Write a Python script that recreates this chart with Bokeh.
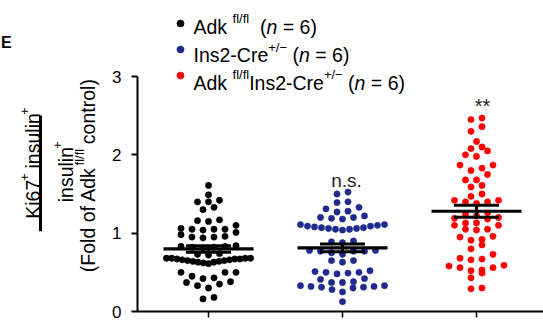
import math
import numpy as np
from bokeh.plotting import figure
from bokeh.layouts import row
from bokeh.models import (Range1d, FixedTicker, Label, Legend, LegendItem,
                          ColumnDataSource)
from bokeh.embed import file_html
from bokeh.resources import INLINE

# ---------------- data ----------------
group_pos = [1, 2, 3]
colors = ["#000000", "#1f2a8c", "#ff0000"]

ctrl = [1.61, 1.49, 1.42, 1.40, 1.40, 1.33, 1.30, 1.17, 1.16, 1.15, 1.10,
        1.05, 1.05, 1.05, 1.06, 1.04, 1.01, 0.98, 0.95, 0.95, 0.94, 0.96,
        0.84, 0.83, 0.82, 0.82, 0.81, 0.83, 0.74, 0.73, 0.72,
        0.68, 0.68, 0.67, 0.67, 0.66, 0.65, 0.64, 0.63, 0.61, 0.62, 0.63,
        0.64, 0.65, 0.66, 0.67, 0.68, 0.68,
        0.50, 0.45, 0.42, 0.43, 0.50, 0.50, 0.37, 0.33, 0.30, 0.35, 0.38,
        0.16, 0.18]

cre = [1.525, 1.50, 1.39, 1.40, 1.33, 1.28, 1.31, 1.27, 1.22, 1.20, 1.18,
       1.19, 1.20,
       1.11, 1.10, 1.09, 1.07, 1.06, 1.05, 1.04, 1.05, 1.06, 1.07, 1.08,
       1.09, 1.11,
       0.90, 0.89, 0.88, 0.78, 0.77, 0.75, 0.77, 0.73, 0.77, 0.78,
       0.65, 0.63, 0.65,
       0.52, 0.50, 0.49, 0.48, 0.50, 0.51, 0.42, 0.38, 0.37, 0.37, 0.41,
       0.33, 0.32, 0.31, 0.28, 0.25, 0.30, 0.31, 0.32, 0.33, 0.125]

ko = [2.47, 2.45, 2.36, 2.30, 2.17, 2.10, 2.08, 2.05, 2.00, 1.98, 1.87,
      1.87, 1.83, 1.80, 1.75, 1.68, 1.68, 1.61, 1.59, 1.50, 1.47, 1.42,
      1.40, 1.38, 1.40, 1.42, 1.26, 1.24, 1.22, 1.20, 1.19, 1.18, 1.13,
      1.10, 1.10, 1.13, 1.05, 1.04, 1.05, 0.96, 0.95, 0.92, 0.91, 0.85,
      0.80, 0.73, 0.68, 0.67, 0.66, 0.59, 0.58, 0.56, 0.56, 0.53, 0.52,
      0.49, 0.43, 0.30, 0.29]

series = [ctrl, cre, ko]
sig_labels = ["", "n.s.", "**"]
y_ticks = [0, 1, 2, 3]

# ---------------- layout constants ----------------
FONT = "Liberation Sans"
TOTAL_W, H = 543, 322
TW = 100                      # width of left title panel
MW = TOTAL_W - TW             # width of main figure
AX_X = 137                    # page x of the y axis (frame left)
Y0_PAGE = 311                 # page y of value 0
PXY = (Y0_PAGE - 76) / 3.0    # px per y unit (value 3 at page y 76)
PXU = 134.0                   # px per x unit
X0 = 1 - (208 - AX_X) / PXU
X1 = X0 + (TOTAL_W - AX_X) / PXU
YTOP = Y0_PAGE / PXY          # value at page y = 0

p = figure(width=MW, height=H, x_range=Range1d(X0, X1), y_range=Range1d(0, YTOP),
           output_backend="svg", toolbar_location=None,
           min_border_left=AX_X - TW, min_border_right=0, min_border_top=0,
           min_border_bottom=H - Y0_PAGE)
p.outline_line_color = None
p.grid.visible = False

# axes
p.yaxis.ticker = FixedTicker(ticks=y_ticks)
p.yaxis.bounds = (0, 3)
p.yaxis.minor_tick_line_color = None
p.yaxis.major_tick_out = 6
p.yaxis.major_tick_in = 0
p.yaxis.axis_line_width = 2
p.yaxis.major_tick_line_width = 2
p.yaxis.major_label_text_font = FONT
p.yaxis.major_label_text_font_size = "17px"
p.yaxis.major_label_text_color = "black"
p.yaxis.major_label_standoff = 10

p.xaxis.ticker = FixedTicker(ticks=group_pos)
p.xaxis.major_label_overrides = {g: "" for g in group_pos}
p.xaxis.major_label_text_font_size = "0px"
p.xaxis.major_label_standoff = 0
p.xaxis.minor_tick_line_color = None
p.xaxis.major_tick_out = 6
p.xaxis.major_tick_in = 0
p.xaxis.axis_line_width = 2
p.xaxis.major_tick_line_width = 1.5


# ---------------- column scatter layout (rows of similar values) ----------------
def swarm_offsets(vals, h=0.085, step_px=11.0, max_px=84.0):
    order = sorted(range(len(vals)), key=lambda i: vals[i])
    offs = [0.0] * len(vals)
    i = 0
    while i < len(order):
        start = vals[order[i]]
        members = []
        while i < len(order) and vals[order[i]] < start + h:
            members.append(order[i])
            i += 1
        n = len(members)
        s = step_px if n <= 1 else min(step_px, max_px / (n - 1))
        slots = [(k - (n - 1) / 2.0) * s for k in range(n)]
        slots.sort(key=lambda v: (abs(v), v))
        for idx, sl in zip(members, slots):
            offs[idx] = sl / PXU
    return offs


renderers = []
for pos, vals, col in zip(group_pos, series, colors):
    offs = swarm_offsets(vals)
    src = ColumnDataSource(dict(x=[pos + o for o in offs], y=vals))
    r = p.scatter("x", "y", source=src, size=6.3, fill_color=col, line_color=col,
                  line_width=0.5)
    renderers.append(r)

# mean +/- SEM
for pos, vals in zip(group_pos, series):
    a = np.array(vals)
    m = a.mean()
    sem = a.std(ddof=1) / math.sqrt(len(a))
    hw_m, hw_s = 45 / PXU, 22.5 / PXU
    p.segment(x0=[pos - hw_m], x1=[pos + hw_m], y0=[m], y1=[m],
              line_color="black", line_width=3.2)
    p.segment(x0=[pos - hw_s, pos - hw_s], x1=[pos + hw_s, pos + hw_s],
              y0=[m - sem, m + sem], y1=[m - sem, m + sem],
              line_color="black", line_width=3)
    p.segment(x0=[pos], x1=[pos], y0=[m - sem], y1=[m + sem],
              line_color="black", line_width=3)

# significance marks
p.add_layout(Label(x=group_pos[1] + 0.03, y=1.675, text=sig_labels[1],
                   text_font=FONT, text_font_size="19px", text_align="center",
                   text_baseline="alphabetic", text_color="#222222"))
p.add_layout(Label(x=group_pos[2] + 0.045, y=2.62, text=sig_labels[2],
                   text_font=FONT, text_font_size="20px", text_align="center",
                   text_baseline="alphabetic", text_color="#222222"))

# ---------------- rich text helpers ----------------
ARIAL = {' ': 278, '(': 333, ')': 333, '*': 389, '+': 584, '-': 333,
         '.': 278, '/': 278, '2': 556, '6': 556, '7': 556, '=': 584,
         'A': 667, 'C': 722, 'E': 667, 'F': 611, 'I': 278, 'K': 667,
         'c': 500, 'd': 556, 'e': 556, 'f': 278, 'i': 222, 'k': 500,
         'l': 222, 'n': 556, 'o': 556, 'r': 333, 's': 500, 't': 278,
         'u': 556, '\u2212': 584}


def tw(s, size):
    return sum(ARIAL.get(c, 556) for c in s) * size / 1000.0


def make_label(fig, x, y, units, text, size, style="normal", angle=0.0):
    fig.add_layout(Label(x=x, y=y, x_units=units, y_units=units, text=text,
                         text_font=FONT, text_font_size=f"{size}px",
                         text_font_style=style, angle=angle, text_align="left",
                         text_baseline="alphabetic", text_color="black"))


def main_text(px, py, text, size, style="normal", angle=0.0):
    # page coords -> main frame screen coords (origin bottom-left of frame)
    make_label(p, px - AX_X, Y0_PAGE - py, "screen", text, size, style, angle)


def runs_h(px, py, runs):
    pos = px
    for text, size, style, rise in runs:
        lead = len(text) - len(text.lstrip(" "))
        main_text(pos + tw(" " * lead, size), py - rise, text.strip(" "), size, style)
        pos += tw(text, size)


M, S, R = 19.5, 13, 8

# legend markers (taken from the data renderers)
legend = Legend(items=[LegendItem(label="", renderers=[r]) for r in renderers],
                location=(170.5 - AX_X, Y0_PAGE - 84), orientation="vertical",
                glyph_width=18, glyph_height=18, label_height=18, label_width=0,
                label_standoff=0, spacing=8, padding=0, margin=0,
                border_line_color=None, background_fill_alpha=0,
                label_text_font_size="1px")
p.add_layout(legend)

runs_h(193, 26, [("Adk ", M, "normal", 0), ("fl/fl", S, "normal", R),
                 ("  (", M, "normal", 0), ("n", M, "italic", 0),
                 (" = 6)", M, "normal", 0)])
runs_h(193, 54.5, [("Ins2-Cre", M, "normal", 0), ("+/\u2212", S, "normal", R),
                   (" (", M, "normal", 0), ("n", M, "italic", 0),
                   (" = 6)", M, "normal", 0)])
runs_h(193, 82, [("Adk ", M, "normal", 0), ("fl/fl", S, "normal", R),
                 ("Ins2-Cre", M, "normal", 0), ("+/\u2212", S, "normal", R),
                 (" (", M, "normal", 0), ("n", M, "italic", 0),
                 (" = 6)", M, "normal", 0)])

# ---------------- left panel: y-axis title (fraction) ----------------
t = figure(width=TW, height=H, x_range=Range1d(0, TW), y_range=Range1d(0, H),
           output_backend="svg", toolbar_location=None,
           x_axis_type=None, y_axis_type=None,
           min_border_left=0, min_border_right=0, min_border_top=0,
           min_border_bottom=0)
t.outline_line_color = None
t.grid.visible = False


def runs_v(bx, cy, runs):
    # bx: page x of baseline, cy: page y of the centre; text reads bottom-to-top
    total = sum(tw(s_, z) for s_, z, _, _ in runs)
    pos = cy + total / 2.0
    for text, size, style, rise in runs:
        lead = len(text) - len(text.lstrip(" "))
        make_label(t, bx - rise, H - (pos - tw(" " * lead, size)), "data",
                   text.strip(" "), size, style, angle=math.pi / 2)
        pos -= tw(text, size)


runs_v(32, 168.5, [("Ki67", M, "normal", 0), ("+", S, "normal", R),
                   (" insulin", M, "normal", 0), ("+", S, "normal", R)])
runs_v(65, 177.5, [("insulin", M, "normal", 0), ("+", S, "normal", R)])
runs_v(87, 182.5, [("(Fold of Adk ", M, "normal", 0), ("fl/fl", S, "normal", R),
                   (" control)", M, "normal", 0)])

# fraction bar (thin filled rectangle)
t.quad(left=[38.5], right=[41.5], top=[H - 119], bottom=[H - 239],
       fill_color="black", line_color=None)

# panel letter
make_label(t, 0.5, H - 43, "data", "E", 16, "bold")

layout = row(t, p)
open("out.html", "w").write(file_html(layout, INLINE))
